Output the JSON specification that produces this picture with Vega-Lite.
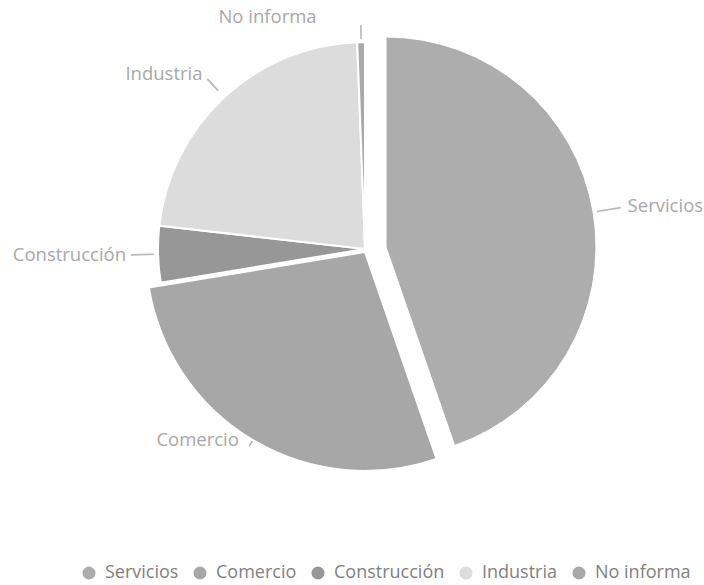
{
  "$schema": "https://vega.github.io/schema/vega-lite/v6.json",
  "autosize": "none",
  "width": 678,
  "height": 498,
  "padding": {"left": 26, "top": 0, "right": 0, "bottom": 87},
  "background": "white",
  "config": {"view": {"stroke": null}, "font": "Open Sans"},
  "data": {
    "values": [
      {"cat": "Servicios", "value": 44.7, "order": 1},
      {"cat": "Comercio", "value": 27.7, "order": 2},
      {"cat": "Construcción", "value": 4.4, "order": 3},
      {"cat": "Industria", "value": 22.6, "order": 4},
      {"cat": "No informa", "value": 0.6, "order": 5}
    ]
  },
  "transform": [
    {"stack": "value", "groupby": [], "as": ["v0", "v1"], "sort": [{"field": "order", "order": "ascending"}]},
    {"calculate": "(datum.v0 + datum.v1) / 2", "as": "mid"},
    {"calculate": "datum.mid - 0.06", "as": "l0"},
    {"calculate": "datum.mid + 0.06", "as": "l1"}
  ],
  "encoding": {
    "theta": {"field": "v0", "type": "quantitative", "scale": {"domain": [0, 100], "range": [0, 6.283185307]}},
    "theta2": {"field": "v1"}
  },
  "layer": [
    {
      "transform": [{"filter": "datum.cat != 'Servicios' && datum.cat != 'Comercio'"}],
      "mark": {"type": "arc", "outerRadius": 207, "stroke": "white", "strokeWidth": 2},
      "encoding": {
        "color": {
          "field": "cat", "type": "nominal",
          "scale": {"domain": ["Servicios", "Comercio", "Construcción", "Industria", "No informa"], "range": ["#adadad", "#a7a7a7", "#979797", "#dcdcdc", "#a9a9a9"]},
          "legend": {
            "orient": "none", "legendX": 54, "legendY": 564, "direction": "horizontal",
            "title": null, "symbolType": "circle", "symbolSize": 170, "symbolStrokeWidth": 0,
            "labelFont": "Open Sans", "labelFontSize": 18, "labelColor": "#7f7f7f",
            "labelOffset": 7, "columnPadding": 12
          }
        }
      }
    },
    {
      "transform": [{"filter": "datum.cat == 'Comercio'"}],
      "mark": {"type": "arc", "outerRadius": 219, "stroke": "white", "strokeWidth": 2, "xOffset": 0, "yOffset": 3},
      "encoding": {"color": {"field": "cat", "type": "nominal"}}
    },
    {
      "transform": [{"filter": "datum.cat == 'Servicios'"}],
      "mark": {"type": "arc", "outerRadius": 210, "stroke": "white", "strokeWidth": 1, "xOffset": 21, "yOffset": -2},
      "encoding": {"color": {"field": "cat", "type": "nominal"}}
    },
    {
      "transform": [{"filter": "datum.cat == 'Construcción'"}],
      "mark": {"type": "arc", "innerRadius": 211, "outerRadius": 234, "color": "#b8b8b8"},
      "encoding": {"theta": {"field": "l0", "type": "quantitative"}, "theta2": {"field": "l1"}}
    },
    {
      "transform": [{"filter": "datum.cat == 'Industria'"}],
      "mark": {"type": "arc", "innerRadius": 216, "outerRadius": 232, "color": "#b8b8b8"},
      "encoding": {"theta": {"field": "l0", "type": "quantitative"}, "theta2": {"field": "l1"}}
    },
    {
      "transform": [{"filter": "datum.cat == 'No informa'"}],
      "mark": {"type": "arc", "innerRadius": 210, "outerRadius": 224, "color": "#b8b8b8"},
      "encoding": {"theta": {"field": "l0", "type": "quantitative"}, "theta2": {"field": "l1"}}
    },
    {
      "transform": [{"filter": "datum.cat == 'Servicios'"}],
      "mark": {"type": "arc", "innerRadius": 214, "outerRadius": 238, "color": "#b8b8b8", "xOffset": 21, "yOffset": -2},
      "encoding": {"theta": {"field": "l0", "type": "quantitative"}, "theta2": {"field": "l1"}}
    },
    {
      "transform": [{"filter": "datum.cat == 'Comercio'"}],
      "mark": {"type": "arc", "innerRadius": 220, "outerRadius": 226, "color": "#b8b8b8", "xOffset": 0, "yOffset": 3},
      "encoding": {"theta": {"field": "l0", "type": "quantitative"}, "theta2": {"field": "l1"}}
    },
    {
      "transform": [{"filter": "datum.cat == 'Construcción' || datum.cat == 'Industria'"}],
      "mark": {"type": "text", "radius": 239, "align": "right", "baseline": "middle", "fontSize": 18.5, "color": "#a8a8a8", "font": "Open Sans"},
      "encoding": {"theta": {"field": "mid", "type": "quantitative"}, "theta2": null, "text": {"field": "cat"}}
    },
    {
      "transform": [{"filter": "datum.cat == 'Comercio'"}],
      "mark": {"type": "text", "radius": 219, "align": "right", "baseline": "middle", "fontSize": 18.5, "color": "#a8a8a8", "font": "Open Sans", "xOffset": 0, "yOffset": 3, "dx": -14},
      "encoding": {"theta": {"field": "mid", "type": "quantitative"}, "theta2": null, "text": {"field": "cat"}}
    },
    {
      "transform": [{"filter": "datum.cat == 'Servicios'"}],
      "mark": {"type": "text", "radius": 245, "align": "left", "baseline": "middle", "fontSize": 18.5, "color": "#a8a8a8", "font": "Open Sans", "xOffset": 21, "yOffset": -2},
      "encoding": {"theta": {"field": "mid", "type": "quantitative"}, "theta2": null, "text": {"field": "cat"}}
    },
    {
      "transform": [{"filter": "datum.cat == 'No informa'"}],
      "mark": {"type": "text", "radius": 232, "align": "right", "baseline": "middle", "fontSize": 18.5, "color": "#a8a8a8", "font": "Open Sans", "dx": -44},
      "encoding": {"theta": {"field": "mid", "type": "quantitative"}, "theta2": null, "text": {"field": "cat"}}
    }
  ]
}
